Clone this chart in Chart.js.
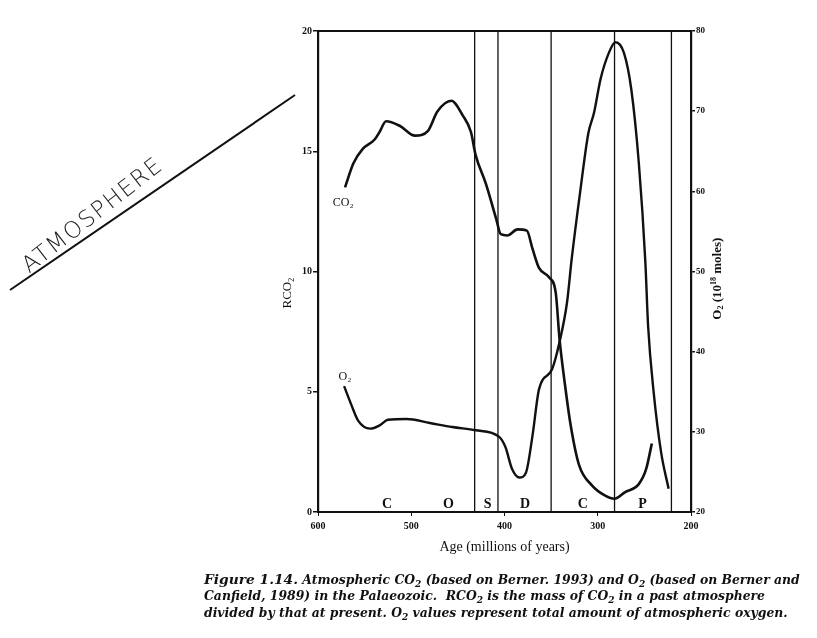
<!DOCTYPE html>
<html>
<head>
<meta charset="utf-8">
<script src="https://cdn.jsdelivr.net/npm/chart.js@4.4.1/dist/chart.umd.min.js"></script>
<style>
  html, body { margin: 0; padding: 0; background: #fff; }
  #wrap { position: relative; width: 817px; height: 638px; overflow: hidden; }
  #chart { position: absolute; left: 0; top: 0; }
  .cap { position: absolute; left: 204px; white-space: nowrap; font-family: 'DejaVu Serif', serif;
         font-style: italic; font-weight: bold; font-size: 12.4px; color: #111; }
  .cap b { font-size: 13.8px; }
  .cap sub { font-size: 9px; }
  #hand { position: absolute; font-family: 'DejaVu Sans', sans-serif; font-size: 23px; line-height: 22px; font-weight: 300;
          color: #222; letter-spacing: 1.5px; transform: rotate(-38deg); transform-origin: 0 100%; }
</style>
</head>
<body>
<div id="wrap">
  <canvas id="chart" width="817" height="638"></canvas>
  <svg width="817" height="638" style="position:absolute;left:0;top:0;pointer-events:none">
    <line x1="10" y1="290" x2="295" y2="95" stroke="#111" stroke-width="2"/>
  </svg>
  <div id="hand" style="left:31px;top:254px">ATMOSPHERE</div>
  <div class="cap" style="top:571px"><b>Figure 1.14.</b> Atmospheric CO<sub>2</sub> (based on Berner. 1993) and O<sub>2</sub> (based on Berner and</div>
  <div class="cap" style="top:588px">Canfield, 1989) in the Palaeozoic.&nbsp; RCO<sub>2</sub> is the mass of CO<sub>2</sub> in a past atmosphere</div>
  <div class="cap" style="top:605px">divided by that at present. O<sub>2</sub> values represent total amount of atmospheric oxygen.</div>
</div>
<script>
// ages in millions of years, CO2 as RCO2 (left axis), O2 in 10^18 moles (right axis)
const co2Ages = [571, 562, 552, 539, 534, 527, 512, 496, 482, 472, 457, 445, 436, 431, 420, 409, 404, 397, 386, 376, 370, 363, 352, 345, 341, 335, 329, 320, 306, 292, 282, 271, 256, 248, 242];
const co2Values = [13.5, 14.5, 15.1, 15.5, 15.8, 16.25, 16.05, 15.65, 15.85, 16.65, 17.1, 16.5, 15.8, 14.85, 13.65, 12.2, 11.55, 11.5, 11.75, 11.7, 10.95, 10.15, 9.75, 9.1, 7.2, 5.25, 3.6, 1.95, 1.1, 0.68, 0.55, 0.82, 1.16, 1.8, 2.85];

const o2Ages = [572, 564, 557, 544, 534, 525, 505, 480, 456, 431, 406, 399, 392, 384, 377, 370, 363, 349, 341, 333, 328, 319, 310, 304, 297, 288, 281, 272, 264, 256, 249, 246, 240, 232, 224];
const o2Values = [35.7, 33.3, 31.4, 30.4, 30.8, 31.5, 31.6, 31.1, 30.6, 30.2, 29.4, 28.1, 25.4, 24.3, 24.9, 29.5, 35.3, 37.8, 41.2, 46.1, 51.5, 59.8, 67.3, 69.8, 74, 77.3, 78.6, 77.3, 72.7, 63.6, 51.3, 43.2, 34.9, 27.4, 22.9];

const boundaryAges = [432, 407, 350, 282, 221];
const periodLabels = ['C', 'O', 'S', 'D', 'C', 'P'];
const periodAges = [526, 460, 418, 378, 316, 252];

const ageTicks = [600, 500, 400, 300, 200];
const rco2Ticks = [0, 5, 10, 15, 20];
const o2Ticks = [20, 30, 40, 50, 60, 70, 80];

const serif = "'Liberation Serif', 'Times New Roman', serif";
const tickFont = { family: serif, size: 10, weight: 'bold' };

const toPoints = (xs, ys) => xs.map((x, i) => ({ x, y: ys[i] }));

const boundarySets = boundaryAges.map(a => ({
  data: [{ x: a, y: 0 }, { x: a, y: 20 }],
  yAxisID: 'y', borderColor: '#111', borderWidth: 1.3, pointRadius: 0, tension: 0
}));

// draws a label rotated to read bottom-to-top
function vText(ctx, parts, cx, cy) {
  ctx.save();
  ctx.translate(cx, cy);
  ctx.rotate(-Math.PI / 2);
  let total = 0;
  parts.forEach(p => { ctx.font = p.font; total += ctx.measureText(p.t).width; });
  let pos = -total / 2;
  ctx.textAlign = 'left';
  ctx.textBaseline = 'middle';
  parts.forEach(p => {
    ctx.font = p.font;
    ctx.fillText(p.t, pos, p.dy || 0);
    pos += ctx.measureText(p.t).width;
  });
  ctx.restore();
}

const annotate = {
  id: 'annotate',
  afterDatasetsDraw(chart) {
    const { ctx, chartArea, scales } = chart;
    const x = scales.x, y = scales.y;
    ctx.save();
    // top frame line
    ctx.strokeStyle = '#111';
    ctx.lineWidth = 2;
    ctx.beginPath();
    ctx.moveTo(chartArea.left, chartArea.top);
    ctx.lineTo(chartArea.right, chartArea.top);
    ctx.stroke();
    // period letters
    ctx.fillStyle = '#111';
    ctx.font = 'bold 14px ' + serif;
    ctx.textAlign = 'center';
    ctx.textBaseline = 'bottom';
    periodLabels.forEach((p, i) => {
      ctx.fillText(p, x.getPixelForValue(periodAges[i]), y.getPixelForValue(0) - 1);
    });
    // curve labels
    ctx.font = '12px ' + serif;
    ctx.textBaseline = 'middle';
    ctx.fillText('CO\u2082', x.getPixelForValue(573), y.getPixelForValue(12.85));
    ctx.fillText('O\u2082', x.getPixelForValue(571), y.getPixelForValue(5.6));
    // axis titles
    vText(ctx, [{ t: 'RCO', font: '13px ' + serif }, { t: '2', font: '8px ' + serif, dy: 4 }],
      chartArea.left - 30, y.getPixelForValue(9.1));
    vText(ctx, [{ t: 'O', font: 'bold 13px ' + serif }, { t: '2', font: 'bold 8px ' + serif, dy: 3 },
      { t: ' (10', font: 'bold 13px ' + serif }, { t: '18', font: 'bold 8px ' + serif, dy: -4 },
      { t: ' moles)', font: 'bold 13px ' + serif }],
      chartArea.right + 27, y.getPixelForValue(9.7));
    ctx.restore();
  }
};

new Chart(document.getElementById('chart'), {
  type: 'line',
  data: {
    datasets: [
      { data: toPoints(co2Ages, co2Values), yAxisID: 'y', borderColor: '#111', borderWidth: 2.6,
        pointRadius: 0, cubicInterpolationMode: 'monotone' },
      { data: toPoints(o2Ages, o2Values), yAxisID: 'y2', borderColor: '#111', borderWidth: 2.4,
        pointRadius: 0, cubicInterpolationMode: 'monotone' },
      ...boundarySets
    ]
  },
  options: {
    responsive: false, animation: false,
    layout: { padding: { left: 278, right: 84, top: 31, bottom: 80 } },
    plugins: { legend: { display: false }, tooltip: { enabled: false } },
    scales: {
      x: {
        type: 'linear', reverse: true, min: 200, max: 600,
        afterBuildTicks: s => { s.ticks = ageTicks.map(v => ({ value: v })); },
        afterFit: s => { s.height = 46; },
        grid: { drawOnChartArea: false, tickLength: 4, color: '#111' },
        border: { color: '#111', width: 2 },
        ticks: { font: tickFont, color: '#111', maxRotation: 0, padding: 4 },
        title: { display: true, text: 'Age (millions of years)', font: { family: serif, size: 14 }, color: '#111', padding: { top: 4, bottom: 2 } }
      },
      y: {
        type: 'linear', position: 'left', min: 0, max: 20,
        afterBuildTicks: s => { s.ticks = rco2Ticks.map(v => ({ value: v })); },
        afterFit: s => { s.width = 40; },
        grid: { drawOnChartArea: false, tickLength: 5, color: '#111', lineWidth: 1.5 },
        border: { color: '#111', width: 2.2 },
        ticks: { font: tickFont, color: '#111', padding: 1 }
      },
      y2: {
        type: 'linear', position: 'right', min: 20, max: 80,
        afterBuildTicks: s => { s.ticks = o2Ticks.map(v => ({ value: v })); },
        afterFit: s => { s.width = 42; },
        grid: { drawOnChartArea: false, tickLength: 4, color: '#111', lineWidth: 1.5 },
        border: { color: '#111', width: 2.2 },
        ticks: { font: { family: serif, size: 9, weight: 'bold' }, color: '#111', padding: 1 }
      }
    }
  },
  plugins: [annotate]
});
</script>
</body>
</html>
